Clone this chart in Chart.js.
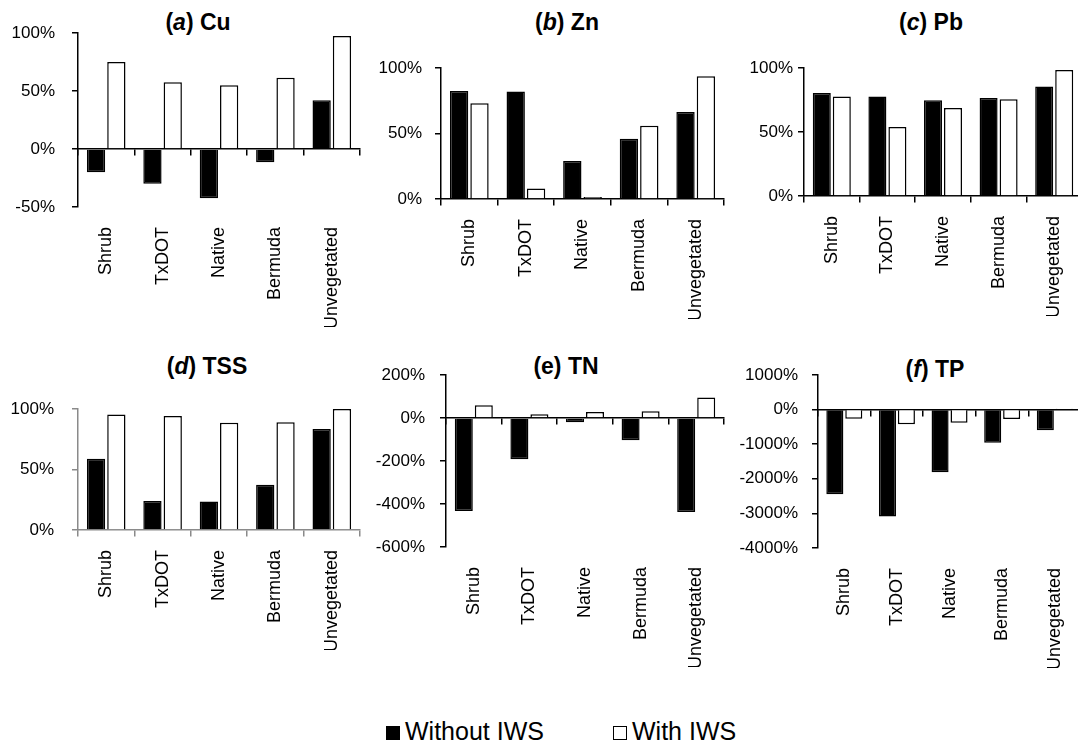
<!DOCTYPE html>
<html>
<head>
<meta charset="utf-8">
<script src="https://cdn.jsdelivr.net/npm/chart.js@4"></script>
<style>
body { margin:0; background:#fff; width:1078px; height:745px; overflow:hidden; position:relative; font-family:"Liberation Sans", Arial, sans-serif; color:#000; }
canvas { position:absolute; }
.title { position:absolute; font-weight:bold; font-size:23px; transform:translate(-50%,-50%); white-space:nowrap; }
.legend { position:absolute; top:717px; font-size:25px; white-space:nowrap; display:flex; align-items:center; }
.box { display:inline-block; width:14px; height:14px; box-sizing:border-box; margin-right:5px; margin-top:3px; }
</style>
</head>
<body>

<div class="title" style="left:198px;top:22px">(<i>a</i>) Cu</div>
<div class="title" style="left:567px;top:22px">(<i>b</i>) Zn</div>
<div class="title" style="left:931px;top:22px">(<i>c</i>) Pb</div>
<div class="title" style="left:207px;top:366px">(<i>d</i>) TSS</div>
<div class="title" style="left:566px;top:366px">(e) TN</div>
<div class="title" style="left:935px;top:369px">(<i>f</i>) TP</div>

<canvas id="cu" width="376" height="309" style="left:0px;top:18px"></canvas>
<canvas id="zn" width="369" height="266" style="left:371px;top:53px"></canvas>
<canvas id="pb" width="364" height="263" style="left:734px;top:53px"></canvas>
<canvas id="tss" width="376" height="256" style="left:0px;top:394px"></canvas>
<canvas id="tn" width="364" height="307" style="left:376px;top:360px"></canvas>
<canvas id="tp" width="360" height="308" style="left:738px;top:360px"></canvas>

<div class="legend" style="left:386px"><span class="box" style="background:#000"></span><span id="lg0"></span></div>
<div class="legend" style="left:613px"><span class="box" style="border:1px solid #000;background:#fff"></span><span id="lg1"></span></div>

<script>
const categories = ['Shrub', 'TxDOT', 'Native', 'Bermuda', 'Unvegetated'];
const seriesNames = ['Without IWS', 'With IWS'];

// removal efficiency, percent
const cuWithout = [-20, -30, -42.5, -11.5, 42];
const cuWith = [75, 57.5, 55, 61.5, 97.5];
const cuTicks = [-50, 0, 50, 100];

const znWithout = [82.5, 82, 29, 46, 66.5];
const znWith = [73, 8, 1.5, 56, 93.7];
const znTicks = [0, 50, 100];

const pbWithout = [80.5, 77.7, 74.8, 76.6, 85.5];
const pbWith = [77.7, 54, 68.8, 75.5, 98.4];
const pbTicks = [0, 50, 100];

const tssWithout = [58.8, 24, 23.5, 37.5, 83.4];
const tssWith = [95.5, 94.2, 88.6, 89, 100];
const tssTicks = [0, 50, 100];

const tnWithout = [-432, -192, -20, -104, -437];
const tnWith = [59, 17, 28, 31, 95];
const tnTicks = [-600, -400, -200, 0, 200];

const tpWithout = [-2446, -3093, -1808, -957, -600];
const tpWith = [-261, -426, -377, -272, 15];
const tpTicks = [-4000, -3000, -2000, -1000, 0, 1000];

Chart.defaults.font.family = '"Liberation Sans", Arial, sans-serif';
Chart.defaults.font.size = 17;
Chart.defaults.color = '#000';

document.getElementById('lg0').textContent = seriesNames[0];
document.getElementById('lg1').textContent = seriesNames[1];

function makePanel(id, without, withIws, ticks, yWidth, tickPad, dotted) {
    const axisColor = dotted ? '#8a8a8a' : '#000';
    const dash = dotted ? [1, 1] : [];
    new Chart(document.getElementById(id).getContext('2d'), {
        type: 'bar',
        data: {
            labels: categories,
            datasets: [{
                label: seriesNames[0],
                data: without,
                backgroundColor: '#000',
                borderColor: '#000',
                borderWidth: 1.5
            }, {
                label: seriesNames[1],
                data: withIws,
                backgroundColor: '#fff',
                borderColor: '#000',
                borderWidth: 1.5
            }]
        },
        options: {
            responsive: false,
            animation: false,
            events: [],
            layout: { padding: { top: 15, right: 16, left: 0, bottom: 0 } },
            datasets: { bar: { categoryPercentage: 0.72, barPercentage: 0.9 } },
            plugins: { legend: { display: false }, tooltip: { enabled: false } },
            scales: {
                x: {
                    type: 'category',
                    offset: true,
                    grid: { display: false, drawTicks: false },
                    border: { display: false },
                    ticks: { minRotation: 90, maxRotation: 90, padding: 20, autoSkip: false, font: { size: 18 } },
                    afterFit: s => { s.height = 120; }
                },
                x0: {
                    type: 'category',
                    position: { y: 0 },
                    offset: true,
                    grid: { display: true, offset: true, drawOnChartArea: false, drawTicks: true, tickLength: 6, color: axisColor, lineWidth: 1.5 },
                    border: { display: true, color: axisColor, width: 1.5, dash: dash },
                    ticks: { display: false }
                },
                y: {
                    min: ticks[0],
                    max: ticks[ticks.length - 1],
                    afterBuildTicks: s => { s.ticks = ticks.map(v => ({ value: v })); },
                    afterFit: s => { s.width = yWidth; s.paddingTop = 10; s.paddingBottom = 10; },
                    grid: { display: true, drawOnChartArea: false, drawTicks: true, tickLength: 6, color: axisColor, lineWidth: 1.5 },
                    border: { display: true, color: axisColor, width: 1.5, dash: dash },
                    ticks: { padding: tickPad, callback: v => v + '%' }
                }
            }
        }
    });
}

makePanel('cu', cuWithout, cuWith, cuTicks, 78, 17, false);
makePanel('zn', znWithout, znWith, znTicks, 70, 13, false);
makePanel('pb', pbWithout, pbWith, pbTicks, 70, 5, false);
makePanel('tss', tssWithout, tssWith, tssTicks, 78, 18, true);
makePanel('tn', tnWithout, tnWith, tnTicks, 70, 15, false);
makePanel('tp', tpWithout, tpWith, tpTicks, 80, 14, false);
</script>
</body>
</html>
